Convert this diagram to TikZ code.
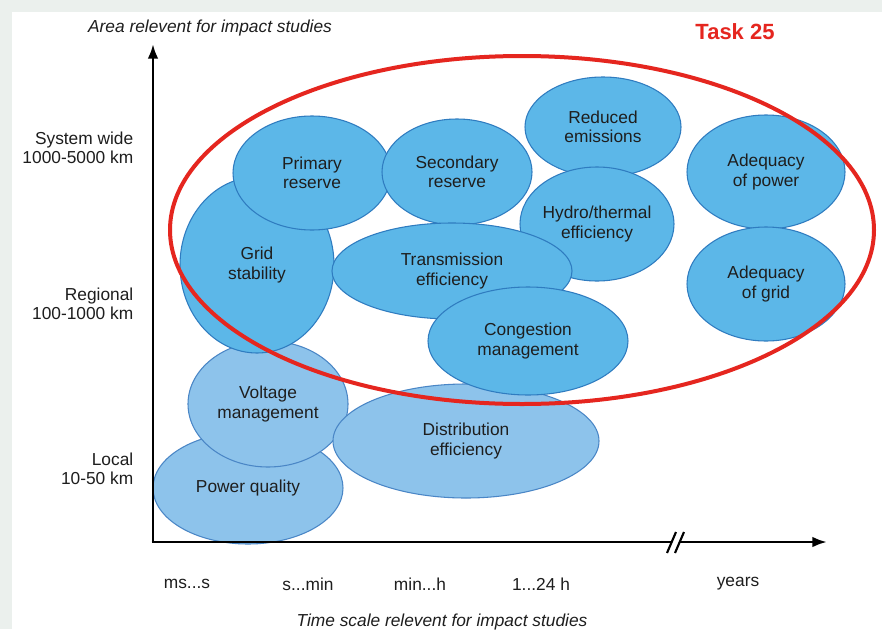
\documentclass[tikz,border=0pt]{standalone}
\usepackage{fontspec}
\setmainfont{Liberation Sans}
\usetikzlibrary{shapes.geometric,arrows.meta}
\definecolor{upfill}{HTML}{5CB7E8}
\definecolor{upline}{HTML}{2F7CC0}
\definecolor{lofill}{HTML}{8DC3EB}
\definecolor{loline}{HTML}{4A86C6}
\definecolor{taskred}{HTML}{E5261F}
\definecolor{bggray}{HTML}{EBF0ED}
\definecolor{txt}{HTML}{1E1E1E}
\tikzset{
  txtfont/.style={font=\fontsize{13}{14.3}\selectfont, text=txt},
  upbub/.style={ellipse, draw=upline, fill=upfill, line width=0.8pt, inner sep=0pt, align=center, txtfont},
  lobub/.style={ellipse, draw=loline, fill=lofill, line width=0.8pt, inner sep=0pt, align=center, txtfont},
  axlab/.style={txtfont, align=right, anchor=east},
  timelab/.style={txtfont},
  axline/.style={line width=2pt, draw=black},
}
\newcommand{\bub}[6]{\node[#1, minimum width=#4*1.5pt, minimum height=#5*1.5pt] (#6) at (#2,#3)}
\begin{document}
\begin{tikzpicture}[x=0.75pt,y=-0.75pt]
\useasboundingbox (0,0) rectangle (882,629);
\fill[bggray] (0,0) rectangle (882,629);
\fill[white] (12,12) rectangle (882,629);

% lower bubbles
\bub{lobub}{248}{488}{95}{56}{pq} {Power quality};
\bub{lobub}{268}{404}{80}{63}{vm} {Voltage\\management};
\bub{lobub}{466}{441}{133}{57}{de} {Distribution\\efficiency};
% upper bubbles
\bub{upbub}{257}{265}{77}{88}{gs} {Grid\\stability};
\bub{upbub}{312}{173}{79}{57}{pr} {Primary\\reserve};
\bub{upbub}{457}{172}{75}{53}{sr} {Secondary\\reserve};
\bub{upbub}{603}{127}{78}{50}{re} {Reduced\\emissions};
\bub{upbub}{597}{224}{77}{57}{ht} {Hydro/thermal\\efficiency};
\bub{upbub}{452}{271}{120}{48}{te} {Transmission\\efficiency};
\bub{upbub}{528}{341}{100}{54}{cm} {Congestion\\management};
\bub{upbub}{766}{172}{79}{57}{ap} {Adequacy\\of power};
\bub{upbub}{766}{284}{79}{57}{ag} {Adequacy\\of grid};

% red task ellipse
\node[ellipse, draw=taskred, line width=3pt, minimum width=704*0.75pt, minimum height=348*0.75pt, inner sep=0pt] (task) at (522,230) {};
\node[font=\bfseries\fontsize{16.5}{18}\selectfont, text=taskred] (tasklab) at (735,32) {Task 25};

% axes
\coordinate (o) at (153,542);
\coordinate (ytop) at (153,44);
\coordinate (b1) at (671,542);
\coordinate (b2) at (680,542);
\coordinate (xend) at (827,542);
\draw[axline, -{Latex[length=11pt,width=8pt]}] (o) -- (ytop);
\draw[axline, line cap=butt] ([xshift=-1pt]o) -- (b1);
\draw[axline, -{Latex[length=11pt,width=8pt]}] (b2) -- (xend);
\coordinate (s1a) at (667,553); \coordinate (s1b) at (676,532);
\coordinate (s2a) at (675,553); \coordinate (s2b) at (684,532);
\draw[line width=1.6pt] (s1a) -- (s1b);
\draw[line width=1.6pt] (s2a) -- (s2b);

% axis titles
\node[txtfont, font=\itshape\fontsize{13}{14.3}\selectfont] (ytitle) at (210,28) {Area relevent for impact studies};
\node[txtfont, font=\itshape\fontsize{13}{14.3}\selectfont] (xtitle) at (442,622) {Time scale relevent for impact studies};

% y labels
\node[axlab] (ys) at (138,148) {System wide\\1000-5000 km};
\node[axlab] (yr) at (138,304) {Regional\\100-1000 km};
\node[axlab] (yl) at (138,469) {Local\\10-50 km};

% x labels
\node[timelab] (t1) at (187,584) {ms...s};
\node[timelab] (t2) at (308,584) {s...min};
\node[timelab] (t3) at (420,584) {min...h};
\node[timelab] (t4) at (541,584) {1...24 h};
\node[timelab] (t5) at (738,584) {years};
\end{tikzpicture}
\end{document}
